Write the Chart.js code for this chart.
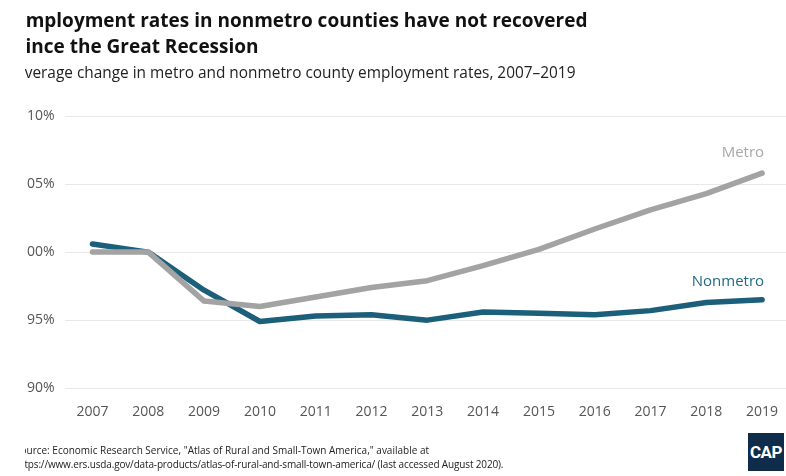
<!DOCTYPE html>
<html>
<head>
<meta charset="utf-8">
<script src="https://cdn.jsdelivr.net/npm/chart.js@4"></script>
<style>
  html, body { margin: 0; padding: 0; background: #fff; overflow: hidden; width: 786px; height: 476px; }
  #wrap { position: relative; width: 786px; height: 476px; }
  canvas { position: absolute; left: 0; top: 0; }
  .clip { position: absolute; left: 25px; overflow: hidden; white-space: nowrap; }
  .clip span { display: block; margin-left: -10px; }
  #title { top: 7px; font: 700 19px "Open Sans", sans-serif; color: #111; line-height: 26px; }
  #subtitle { top: 62px; font: 400 15.4px "Open Sans", sans-serif; color: #222; }
  #source { top: 444px; font: 400 10px "Open Sans", sans-serif; color: #222; line-height: 13.5px; }
  #source .l2 { letter-spacing: -0.15px; }
  #logo { position: absolute; left: 748px; top: 433px; width: 36px; height: 38px; background: #0f2d4a;
          color: #fff; font: 700 17px "Liberation Sans Narrow", "Roboto", sans-serif; line-height: 38px; text-align: center; letter-spacing: -0.5px; }
</style>
</head>
<body>
<div id="wrap">
  <canvas id="chart" width="800" height="476"></canvas>
  <div class="clip" id="title"><span>Employment rates in nonmetro counties have not recovered<br>Since the Great Recession</span></div>
  <div class="clip" id="subtitle"><span>Average change in metro and nonmetro county employment rates, 2007–2019</span></div>
  <div class="clip" id="source"><span>Source: Economic Research Service, "Atlas of Rural and Small-Town America," available at<br><span class="l2" style="margin-left:0">https://www.ers.usda.gov/data-products/atlas-of-rural-and-small-town-america/ (last accessed August 2020).</span></span></div>
  <div id="logo">CAP</div>
</div>
<script>
const years = ["2007", "2008", "2009", "2010", "2011", "2012", "2013", "2014", "2015", "2016", "2017", "2018", "2019"];
const metroValues = [100.0, 100.0, 96.4, 96.0, 96.7, 97.4, 97.9, 99.0, 100.2, 101.7, 103.1, 104.3, 105.8];
const nonmetroValues = [100.6, 100.0, 97.2, 94.9, 95.3, 95.4, 95.0, 95.6, 95.5, 95.4, 95.7, 96.3, 96.5];
const yTickValues = [90, 95, 100, 105, 110];
const yTickLabels = ["90%", "95%", "00%", "05%", "10%"];

const METRO_COLOR = "#a3a3a3";
const NONMETRO_COLOR = "#1b5f7a";

// writes the series name above the last point of each line
const endLabels = {
  id: "endLabels",
  afterDatasetsDraw(chart) {
    const ctx = chart.ctx;
    const offsets = [-20, -18];
    ctx.save();
    ctx.font = "15px 'Open Sans', sans-serif";
    ctx.textAlign = "right";
    ctx.textBaseline = "middle";
    chart.data.datasets.forEach((ds, i) => {
      const meta = chart.getDatasetMeta(i);
      const pt = meta.data[meta.data.length - 1];
      ctx.fillStyle = ds.labelColor;
      ctx.fillText(ds.label, pt.x + 2, pt.y + offsets[i]);
    });
    ctx.restore();
  }
};

new Chart(document.getElementById("chart"), {
  type: "line",
  data: {
    labels: years,
    datasets: [
      {
        label: "Metro",
        data: metroValues,
        borderColor: METRO_COLOR,
        labelColor: "#a8a8a8",
        borderWidth: 5.5,
        borderCapStyle: "round",
        borderJoinStyle: "round",
        pointRadius: 0,
        tension: 0
      },
      {
        label: "Nonmetro",
        data: nonmetroValues,
        borderColor: NONMETRO_COLOR,
        labelColor: "#1f6a86",
        borderWidth: 5.5,
        borderCapStyle: "round",
        borderJoinStyle: "round",
        pointRadius: 0,
        tension: 0
      }
    ]
  },
  options: {
    responsive: false,
    animation: false,
    layout: { padding: { top: 116, bottom: 49, left: 17, right: 10 } },
    plugins: {
      legend: { display: false },
      tooltip: { enabled: false }
    },
    scales: {
      x: {
        offset: true,
        grid: { display: false },
        border: { display: false },
        ticks: { color: "#555", font: { family: "'Open Sans', sans-serif", size: 14 }, padding: 7, maxRotation: 0 }
      },
      y: {
        min: 90,
        max: 110,
        afterBuildTicks(axis) {
          axis.ticks = yTickValues.map((v) => ({ value: v }));
        },
        grid: { color: "#e8e8e8", lineWidth: 1, drawTicks: false },
        border: { display: false },
        ticks: {
          color: "#555",
          font: { family: "'Open Sans', sans-serif", size: 14 },
          padding: 10,
          callback: (v) => yTickLabels[yTickValues.indexOf(v)]
        }
      }
    }
  },
  plugins: [endLabels]
});
</script>
</body>
</html>
